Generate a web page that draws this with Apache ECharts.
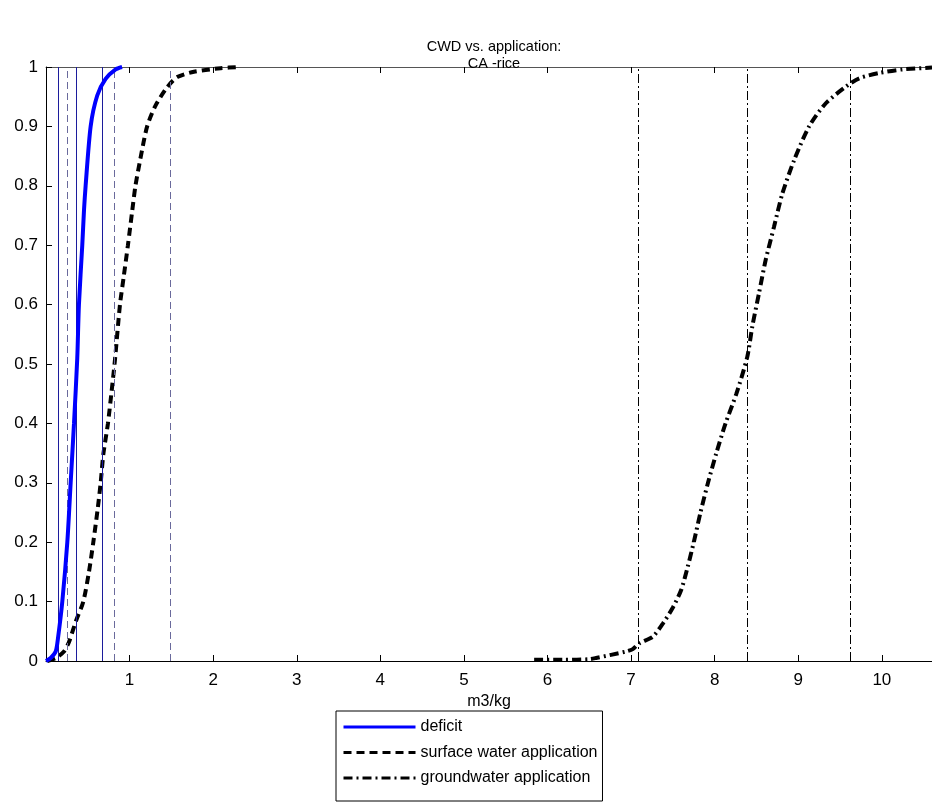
<!DOCTYPE html>
<html>
<head>
<meta charset="utf-8">
<title>CWD vs. application: CA -rice</title>
<script src="https://cdn.jsdelivr.net/npm/echarts@6/dist/echarts.min.js"></script>
<style>
  html, body { margin: 0; padding: 0; background: #fff; }
  #chart { width: 932px; height: 802px; }
</style>
</head>
<body>
<div id="chart"></div>
<script>
// Empirical CDFs of crop water use (m3/kg) for California rice
const deficitX = [0.0, 0.056, 0.116, 0.143, 0.195, 0.255, 0.295, 0.335, 0.374, 0.394, 0.434, 0.455, 0.474, 0.534, 0.613, 0.713, 0.833, 0.91];
const deficitY = [0.0, 0.005, 0.016, 0.038, 0.1, 0.2, 0.3, 0.4, 0.51, 0.6, 0.7, 0.76, 0.8, 0.9, 0.952, 0.98, 0.996, 1.0];

const surfaceX = [0.016, 0.116, 0.215, 0.275, 0.355, 0.446, 0.514, 0.566, 0.62, 0.654, 0.685, 0.741, 0.785, 0.825, 0.885, 0.93, 0.98, 1.03, 1.07, 1.13, 1.21, 1.31, 1.45, 1.57, 1.77, 2.09, 2.3];
const surfaceY = [0.0, 0.005, 0.016, 0.032, 0.066, 0.1, 0.15, 0.2, 0.258, 0.3, 0.347, 0.4, 0.454, 0.507, 0.6, 0.647, 0.7, 0.756, 0.8, 0.846, 0.9, 0.935, 0.966, 0.983, 0.992, 0.998, 1.0];

const groundX = [5.84, 6.2, 6.5, 6.58, 6.94, 7.02, 7.1, 7.26, 7.38, 7.5, 7.6, 7.68, 7.75, 7.83, 7.92, 8.02, 8.13, 8.26, 8.39, 8.45, 8.53, 8.61, 8.71, 8.81, 8.95, 9.13, 9.33, 9.57, 9.73, 9.97, 10.25, 10.6];
const groundY = [0.002, 0.002, 0.003, 0.005, 0.016, 0.02, 0.03, 0.041, 0.063, 0.09, 0.12, 0.16, 0.2, 0.25, 0.3, 0.35, 0.4, 0.45, 0.512, 0.563, 0.619, 0.675, 0.731, 0.787, 0.843, 0.9, 0.939, 0.967, 0.981, 0.99, 0.996, 0.999];

// Lower bound, median and upper bound of each distribution
const deficitBounds = [0.147, 0.359, 0.673];
const surfaceBounds = [0.259, 0.825, 1.49];
const groundBounds = [7.09, 8.39, 9.62];

const seriesNames = ['deficit', 'surface water application', 'groundwater application'];
const xTicks = { min: 0, max: 10.6, interval: 1 };
const yTicks = { min: 0, max: 1, interval: 0.1 };

const FONT = '"Liberation Sans", Arial, Helvetica, sans-serif';

function pairs(xs, ys) {
  return xs.map((x, i) => [x, ys[i]]);
}

function boundLines(values, color, type) {
  return {
    silent: true,
    symbol: ['none', 'none'],
    label: { show: false },
    animation: false,
    lineStyle: { color: color, width: 1, type: type, opacity: 1 },
    emphasis: { disabled: true },
    data: values.map(v => ({ xAxis: v }))
  };
}

const chart = echarts.init(document.getElementById('chart'), null, { renderer: 'canvas' });

const axisLineStyle = { color: '#000', width: 1 };

chart.setOption({
  animation: false,
  backgroundColor: '#fff',
  textStyle: { fontFamily: FONT },
  title: {
    text: 'CWD vs. application:\nCA -rice',
    left: 489,
    top: 33,
    textAlign: 'center',
    textStyle: { fontFamily: FONT, fontSize: 14.5, fontWeight: 'normal', color: '#000', lineHeight: 17 }
  },
  grid: { left: 46, top: 67, width: 887, height: 594, containLabel: false },
  legend: {
    orient: 'vertical',
    left: 336,
    top: 711,
    padding: [8, 5, 15, 6],
    itemGap: 9.5,
    itemWidth: 72,
    itemHeight: 14,
    backgroundColor: '#fff',
    borderColor: '#000',
    borderWidth: 1,
    borderRadius: 0,
    textStyle: { fontFamily: FONT, fontSize: 16, color: '#000' },
    itemStyle: { opacity: 0 },
    lineStyle: { width: 3 },
    data: seriesNames
  },
  xAxis: [
    {
      type: 'value',
      min: xTicks.min, max: xTicks.max, interval: xTicks.interval,
      position: 'bottom',
      name: 'm3/kg',
      nameLocation: 'middle',
      nameGap: 33,
      nameTextStyle: { fontFamily: FONT, fontSize: 16, color: '#000' },
      axisLine: { show: true, onZero: false, lineStyle: axisLineStyle },
      axisTick: { show: true, inside: true, length: 6, lineStyle: { color: '#000' } },
      axisLabel: {
        show: true, margin: 11, showMaxLabel: false,
        fontFamily: FONT, fontSize: 17, color: '#000',
        formatter: v => (v === 0 ? '' : String(v))
      },
      splitLine: { show: false }
    },
    {
      type: 'value',
      min: xTicks.min, max: xTicks.max, interval: xTicks.interval,
      position: 'top',
      axisLine: { show: true, onZero: false, lineStyle: { color: '#555', width: 1 } },
      axisTick: { show: true, inside: true, length: 6, lineStyle: { color: '#000' } },
      axisLabel: { show: false },
      splitLine: { show: false }
    }
  ],
  yAxis: {
    type: 'value',
    min: yTicks.min, max: yTicks.max, interval: yTicks.interval,
    axisLine: { show: true, onZero: false, lineStyle: axisLineStyle },
    axisTick: { show: true, inside: true, length: 6, lineStyle: { color: '#000' } },
    axisLabel: {
      margin: 8, fontFamily: FONT, fontSize: 17, color: '#000',
      formatter: v => String(Math.round(v * 10) / 10)
    },
    splitLine: { show: false }
  },
  series: [
    {
      name: seriesNames[0],
      type: 'line',
      xAxisIndex: 0,
      data: pairs(deficitX, deficitY),
      showSymbol: false,
      symbol: 'none',
      smooth: 0.25,
      color: '#0000ff',
      lineStyle: { color: '#0000ff', width: 4, type: 'solid' },
      markLine: boundLines(deficitBounds, '#1c1c9c', 'solid'),
      z: 5
    },
    {
      name: seriesNames[1],
      type: 'line',
      xAxisIndex: 0,
      data: pairs(surfaceX, surfaceY),
      showSymbol: false,
      symbol: 'none',
      smooth: 0.25,
      color: '#000',
      lineStyle: { color: '#000', width: 4, type: [8, 5] },
      markLine: boundLines(surfaceBounds, '#6a6a9c', [7, 4]),
      z: 4
    },
    {
      name: seriesNames[2],
      type: 'line',
      xAxisIndex: 0,
      data: pairs(groundX, groundY),
      showSymbol: false,
      symbol: 'none',
      smooth: 0.25,
      color: '#000',
      lineStyle: { color: '#000', width: 4, type: [9, 4, 2, 4] },
      markLine: boundLines(groundBounds, '#000', [9, 3, 2, 3]),
      z: 3
    }
  ]
});
</script>
</body>
</html>
